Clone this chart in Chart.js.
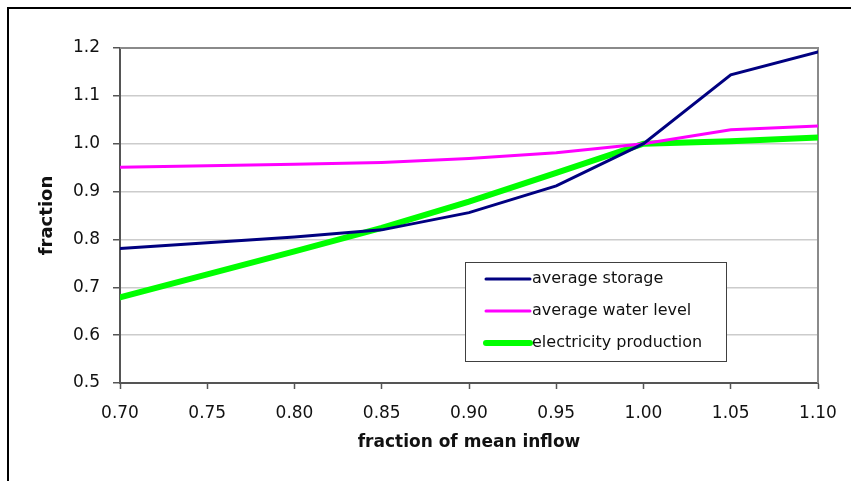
<!DOCTYPE html>
<html>
<head>
<meta charset="utf-8">
<script src="https://cdn.jsdelivr.net/npm/chart.js@4.4.1/dist/chart.umd.min.js"></script>
<style>
  html, body { margin: 0; padding: 0; background: #fff; }
  #wrap { position: relative; width: 851px; height: 481px; }
  #frame { position: absolute; left: 7px; top: 7px; right: 0; bottom: 0;
           border-left: 2px solid #000; border-top: 2px solid #000; pointer-events: none; }
</style>
</head>
<body>
<div id="wrap">
  <canvas id="chart" width="851" height="481"></canvas>
  <div id="frame"></div>
</div>
<script>
// fraction of mean inflow
const inflow = [0.70, 0.75, 0.80, 0.85, 0.90, 0.95, 1.00, 1.05, 1.10];
const avgStorage = [0.781, 0.793, 0.805, 0.820, 0.856, 0.912, 1.000, 1.144, 1.192];
const avgWaterLevel = [0.951, 0.954, 0.957, 0.961, 0.969, 0.981, 1.000, 1.029, 1.037];
const electricity = [0.679, 0.727, 0.775, 0.824, 0.879, 0.939, 1.000, 1.005, 1.013];
const seriesNames = ["average storage", "average water level", "electricity production"];

const toPoints = (ys) => inflow.map((x, i) => ({ x: x, y: ys[i] }));

// top/right border of the plot area
const plotFrame = {
  id: "plotFrame",
  beforeDatasetsDraw(chart) {
    const { ctx, chartArea: a } = chart;
    ctx.save();
    ctx.strokeStyle = "#8a8a8a";
    ctx.lineWidth = 2;
    ctx.beginPath();
    ctx.moveTo(a.left, a.top);
    ctx.lineTo(a.right, a.top);
    ctx.lineTo(a.right, a.bottom);
    ctx.stroke();
    ctx.restore();
  },
};

// legend box inside the plot
const boxLegend = {
  id: "boxLegend",
  afterDraw(chart) {
    const { ctx } = chart;
    const bx = 465, by = 262, bw = 261, bh = 99;
    ctx.save();
    ctx.fillStyle = "#fff";
    ctx.fillRect(bx, by, bw, bh);
    ctx.strokeStyle = "#404040";
    ctx.lineWidth = 1;
    ctx.strokeRect(bx + 0.5, by + 0.5, bw, bh);
    ctx.font = "16px 'DejaVu Sans'";
    ctx.textBaseline = "middle";
    chart.data.datasets.forEach((ds, i) => {
      const y = by + 17 + i * 32;
      ctx.strokeStyle = ds.borderColor;
      ctx.lineWidth = ds.borderWidth;
      ctx.lineCap = "round";
      ctx.beginPath();
      ctx.moveTo(486, y);
      ctx.lineTo(530, y);
      ctx.stroke();
      ctx.fillStyle = "#111";
      ctx.fillText(ds.label, 532, y);
    });
    ctx.restore();
  },
};

new Chart(document.getElementById("chart"), {
  type: "line",
  data: {
    datasets: [
      { label: seriesNames[0], data: toPoints(avgStorage), borderColor: "#000080", borderWidth: 3 },
      { label: seriesNames[1], data: toPoints(avgWaterLevel), borderColor: "#ff00ff", borderWidth: 3 },
      { label: seriesNames[2], data: toPoints(electricity), borderColor: "#00ff00", borderWidth: 6 },
    ],
  },
  options: {
    responsive: false,
    animation: false,
    elements: { point: { radius: 0 }, line: { tension: 0, borderCapStyle: "round" } },
    layout: { padding: { left: 0, right: 33, top: 48, bottom: 0 } },
    plugins: { legend: { display: false }, tooltip: { enabled: false } },
    scales: {
      x: {
        type: "linear",
        min: 0.7,
        max: 1.1,
        afterFit: (s) => { s.height = 98; },
        afterBuildTicks: (s) => { s.ticks = inflow.map(v => ({ value: v })); },
        ticks: {
          padding: 14,
          color: "#111",
          font: { family: "'DejaVu Sans'", size: 17 },
          callback: (v) => v.toFixed(2),
          maxRotation: 0,
        },
        grid: { drawOnChartArea: false, drawTicks: true, tickLength: 6, tickColor: "#555", tickWidth: 1.5 },
        border: { color: "#555", width: 2 },
        title: {
          display: true,
          text: "fraction of mean inflow",
          color: "#111",
          font: { family: "'DejaVu Sans'", size: 17, weight: "bold" },
          padding: { top: 0, bottom: 28 },
        },
      },
      y: {
        min: 0.5,
        max: 1.2,
        afterFit: (s) => { s.width = 120; },
        ticks: {
          stepSize: 0.1,
          padding: 13,
          color: "#111",
          font: { family: "'DejaVu Sans'", size: 17 },
          callback: (v) => v.toFixed(1),
        },
        grid: { color: "#cccccc", lineWidth: 1.5, tickLength: 7, tickColor: "#555", tickWidth: 1.5 },
        border: { color: "#555", width: 2 },
        title: {
          display: true,
          text: "fraction",
          color: "#111",
          font: { family: "'DejaVu Sans'", size: 18, weight: "bold" },
          padding: { top: 37, bottom: 0 },
        },
      },
    },
  },
  plugins: [plotFrame, boxLegend],
});
</script>
</body>
</html>
